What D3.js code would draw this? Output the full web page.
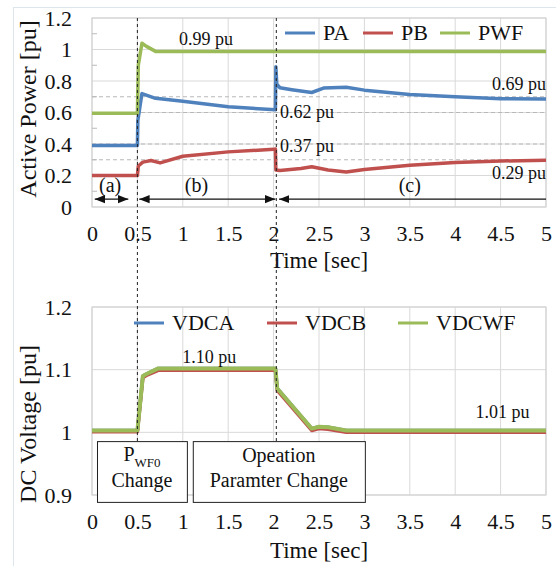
<!DOCTYPE html>
<html>
<head>
<meta charset="utf-8">
<script src="https://cdn.jsdelivr.net/npm/d3@7"></script>
<style>
  body { margin: 0; background: #fff; }
</style>
</head>
<body>
<div id="chart"></div>
<script>
// Width and height
var chart_width  = 556;
var chart_height = 566;
var serif = "'Liberation Serif', 'DejaVu Serif', 'Times New Roman', Times, serif";

// time axis ticks
var time_ticks = [0, 0.5, 1, 1.5, 2, 2.5, 3, 3.5, 4, 4.5, 5];
var power_ticks = [0, 0.2, 0.4, 0.6, 0.8, 1, 1.2];
var power_minor = [0.1, 0.3, 0.5, 0.7, 0.9, 1.1];
var power_refs = [0.3, 0.4, 0.6, 0.7];
var volt_ticks = [0.9, 1, 1.1, 1.2];
var event_times = [0.5, 2.03];

// active power series
var pa_t = [0, 0.5, 0.505, 0.55, 0.7, 1.0, 1.5, 2.02, 2.025, 2.035, 2.07, 2.2, 2.42, 2.55, 2.8, 3.0, 3.5, 4.0, 4.5, 5.0];
var pa_v = [0.39, 0.39, 0.55, 0.72, 0.69, 0.672, 0.637, 0.617, 0.89, 0.78, 0.757, 0.745, 0.727, 0.755, 0.76, 0.742, 0.715, 0.70, 0.688, 0.686];

var pb_t = [0, 0.5, 0.51, 0.56, 0.65, 0.75, 1.0, 1.5, 2.0, 2.02, 2.025, 2.07, 2.3, 2.42, 2.6, 2.8, 3.0, 3.5, 4.0, 4.5, 5.0];
var pb_v = [0.2, 0.2, 0.26, 0.285, 0.295, 0.28, 0.322, 0.35, 0.366, 0.368, 0.235, 0.232, 0.245, 0.256, 0.235, 0.222, 0.238, 0.265, 0.283, 0.292, 0.297];

var pwf_t = [0, 0.5, 0.51, 0.55, 0.6, 0.7, 2.0, 5.0];
var pwf_v = [0.595, 0.595, 0.9, 1.04, 1.02, 0.988, 0.987, 0.987];

// dc voltage series
var vdc_t = [0, 0.5, 0.56, 0.6, 0.73, 2.02, 2.04, 2.42, 2.5, 2.6, 2.8, 5.0];
var vdca_v = [1.003, 1.003, 1.09, 1.093, 1.102, 1.102, 1.07, 1.006, 1.009, 1.008, 1.003, 1.003];
var vdcb_v = [1.001, 1.001, 1.087, 1.091, 1.099, 1.099, 1.067, 1.003, 1.006, 1.005, 1.0, 1.0];
var vdcwf_v = [1.003, 1.003, 1.09, 1.093, 1.102, 1.102, 1.07, 1.006, 1.009, 1.008, 1.003, 1.003];

var blue = '#4f81bd', red = '#c0504d', green = '#9bbb59';

// Create SVG
var svg = d3.select("#chart")
  .append("svg")
  .attr("width", chart_width)
  .attr("height", chart_height)
  .attr("font-family", serif);

// faint outer frame
svg.append('rect')
  .attr('x', 13.5).attr('y', 7.5)
  .attr('width', 560).attr('height', 570)
  .attr('fill', 'none').attr('stroke', '#dfe5ec');

var x = d3.scaleLinear().domain([0, 5]).range([92, 546]);
var yP = d3.scaleLinear().domain([0, 1.2]).range([207, 18]);
var yV = d3.scaleLinear().domain([0.9, 1.2]).range([495, 307]);

function fmt(d){ return String(d); }

function txt(sel){
  return sel.append('text').attr('font-family', serif).attr('fill', '#111');
}

function panel(y, yticks){
  var g = svg.append('g');
  // vertical grid
  g.selectAll('.vg').data(time_ticks).enter().append('line')
    .attr('x1', x).attr('x2', x)
    .attr('y1', y.range()[1]).attr('y2', y.range()[0])
    .attr('stroke', '#d9d9d9');
  // horizontal grid
  g.selectAll('.hg').data(yticks).enter().append('line')
    .attr('x1', x(0)).attr('x2', x(5))
    .attr('y1', y).attr('y2', y)
    .attr('stroke', '#d9d9d9');
  g.append('rect')
    .attr('x', x(0)).attr('y', y.range()[1])
    .attr('width', x(5) - x(0)).attr('height', y.range()[0] - y.range()[1])
    .attr('fill', 'none').attr('stroke', '#d0d0d0');

  var xa = g.append('g')
    .attr('transform', 'translate(0,' + y.range()[0] + ')')
    .call(d3.axisBottom(x).tickValues(time_ticks).tickFormat(fmt).tickSize(0).tickPadding(18));
  var ya = g.append('g')
    .attr('transform', 'translate(' + x(0) + ',0)')
    .call(d3.axisLeft(y).tickValues(yticks).tickFormat(fmt).tickSize(0).tickPadding(20));
  [xa, ya].forEach(function(a){
    a.attr('font-family', serif).attr('font-size', 22);
    a.select('.domain').remove();
    a.selectAll('text').attr('fill', '#111');
  });
  return g;
}

var top_g = panel(yP, power_ticks);
var bot_g = panel(yV, volt_ticks);

// minor ticks on power axis
top_g.selectAll('.mt').data(power_minor).enter().append('line')
  .attr('x1', x(0)).attr('x2', x(0) + 5)
  .attr('y1', yP).attr('y2', yP)
  .attr('stroke', '#bbb');

// dashed reference lines
top_g.selectAll('.ref').data(power_refs).enter().append('line')
  .attr('x1', x(0)).attr('x2', x(5))
  .attr('y1', yP).attr('y2', yP)
  .attr('stroke', '#b8b8b8').attr('stroke-dasharray', '4,3');

// axis titles
txt(svg).attr('x', 319).attr('y', 268).attr('text-anchor', 'middle')
  .attr('font-size', 23).text('Time [sec]');
txt(svg).attr('x', 319).attr('y', 558).attr('text-anchor', 'middle')
  .attr('font-size', 23).text('Time [sec]');
txt(svg).attr('transform', 'translate(36,109) rotate(-90)')
  .attr('text-anchor', 'middle').attr('font-size', 24).text('Active Power [pu]');
txt(svg).attr('transform', 'translate(36,424) rotate(-90)')
  .attr('text-anchor', 'middle').attr('font-size', 24).text('DC Voltage [pu]');

// event lines
svg.selectAll('.ev').data(event_times).enter().append('line')
  .attr('x1', x).attr('x2', x)
  .attr('y1', 18).attr('y2', 441)
  .attr('stroke', '#222').attr('stroke-dasharray', '3,3');

function draw_line(g, y, ts, vs, color, w){
  var pts = ts.map(function(t, i){ return [t, vs[i]]; });
  g.append('path')
    .datum(pts)
    .attr('d', d3.line().x(function(d){ return x(d[0]); }).y(function(d){ return y(d[1]); }))
    .attr('fill', 'none').attr('stroke', color)
    .attr('stroke-width', w).attr('stroke-linejoin', 'round');
}

draw_line(top_g, yP, pa_t, pa_v, blue, 3.5);
draw_line(top_g, yP, pb_t, pb_v, red, 3.5);
draw_line(top_g, yP, pwf_t, pwf_v, green, 3.5);

draw_line(bot_g, yV, vdc_t, vdca_v, blue, 3.5);
draw_line(bot_g, yV, vdc_t, vdcb_v, red, 3.5);
draw_line(bot_g, yV, vdc_t, vdcwf_v, green, 4);

// legends
function legend(names, colors, xs, ly){
  names.forEach(function(n, i){
    svg.append('line').attr('x1', xs[i]).attr('x2', xs[i] + 30)
      .attr('y1', ly).attr('y2', ly)
      .attr('stroke', colors[i]).attr('stroke-width', 3);
    txt(svg).attr('x', xs[i] + 38).attr('y', ly + 7)
      .attr('font-size', 22).text(n);
  });
}
legend(['PA', 'PB', 'PWF'], [blue, red, green], [285, 363, 440], 33);
legend(['VDCA', 'VDCB', 'VDCWF'], [blue, red, green], [134, 267, 398], 323);

// value labels
var labels = [
  {t: 1.255, v: 1.03, s: '0.99 pu', a: 'middle'},
  {t: 2.07, v: 0.565, s: '0.62 pu', a: 'start'},
  {t: 2.07, v: 0.35, s: '0.37 pu', a: 'start'},
  {t: 5.0, v: 0.743, s: '0.69 pu', a: 'end'},
  {t: 5.0, v: 0.178, s: '0.29 pu', a: 'end'}
];
labels.forEach(function(d){
  txt(svg).attr('x', x(d.t)).attr('y', yP(d.v))
    .attr('text-anchor', d.a).attr('font-size', 18).text(d.s);
});
[{t: 1.29, v: 1.1113, s: '1.10 pu'}, {t: 4.52, v: 1.0228, s: '1.01 pu'}].forEach(function(d){
  txt(svg).attr('x', x(d.t)).attr('y', yV(d.v))
    .attr('text-anchor', 'middle').attr('font-size', 18).text(d.s);
});

// stage arrows
svg.append('defs').html(
  '<marker id="ah" viewBox="0 0 10 10" refX="10" refY="5" markerWidth="8" markerHeight="8" orient="auto-start-reverse">' +
  '<path d="M0,1 L10,5 L0,9 z" fill="#111"/></marker>');
var stages = [
  {s: '(a)', t0: 0.03, t1: 0.40, tc: 0.2, both: true},
  {s: '(b)', t0: 0.52, t1: 2.02, tc: 1.15, both: true},
  {s: '(c)', t0: 2.06, t1: 5.0, tc: 3.5, both: false}
];
stages.forEach(function(d){
  var ln = svg.append('line')
    .attr('x1', x(d.t0)).attr('x2', x(d.t1))
    .attr('y1', yP(0.05)).attr('y2', yP(0.05))
    .attr('stroke', '#111').attr('stroke-width', 1.3)
    .attr('marker-start', 'url(#ah)');
  if (d.both) ln.attr('marker-end', 'url(#ah)');
  txt(svg).attr('x', x(d.tc)).attr('y', yP(0.097))
    .attr('text-anchor', 'middle').attr('font-size', 20).text(d.s);
});

// boxes
var boxes = [{t0: 0.055, t1: 1.045}, {t0: 1.11, t1: 3.005}];
boxes.forEach(function(b){
  svg.append('rect')
    .attr('x', x(b.t0) + 0.5).attr('y', yV(0.986) + 0.5)
    .attr('width', x(b.t1) - x(b.t0)).attr('height', yV(0.889) - yV(0.986))
    .attr('fill', '#fff').attr('stroke', '#222');
});
var c1 = (x(boxes[0].t0) + x(boxes[0].t1)) / 2;
var c2 = (x(boxes[1].t0) + x(boxes[1].t1)) / 2;
var pw = txt(svg).attr('x', c1).attr('y', 461).attr('text-anchor', 'middle').attr('font-size', 20);
pw.append('tspan').text('P');
pw.append('tspan').attr('font-size', 13).attr('dy', 6).text('WF0');
txt(svg).attr('x', c1).attr('y', 487).attr('text-anchor', 'middle').attr('font-size', 20).text('Change');
txt(svg).attr('x', c2).attr('y', 462).attr('text-anchor', 'middle').attr('font-size', 20).text('Opeation');
txt(svg).attr('x', c2).attr('y', 487).attr('text-anchor', 'middle').attr('font-size', 20).text('Paramter Change');
</script>
</body>
</html>
